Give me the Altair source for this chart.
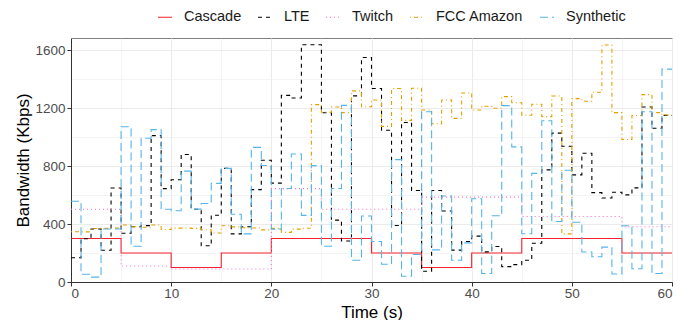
import altair as alt
import pandas as pd

# ---------------- data ----------------
series_names = ["Cascade", "LTE", "Twitch", "FCC Amazon", "Synthetic"]

block_times = [0, 5, 10, 15, 20, 25, 30, 35, 40, 45, 50, 55]
cascade_kbps = [300, 200, 100, 200, 300, 300, 200, 100, 200, 300, 300, 200]
twitch_kbps = [502, 110, 90, 90, 645, 502, 502, 586, 586, 452, 452, 382]

second_times = list(range(0, 60))
lte_kbps = [
    167, 299, 366, 219, 649, 337, 382, 389, 1011, 645,
    706, 880, 502, 250, 461, 785, 332, 382, 638, 841,
    683, 1289, 1271, 1638, 1638, 1169, 427, 283, 1285, 1550,
    1336, 1048, 390, 1101, 632, 74, 632, 490, 220, 280,
    317, 208, 245, 106, 120, 150, 268, 774, 1028, 937,
    740, 889, 617, 580, 620, 602, 650, 1208, 1062, 1151,
]
fcc_kbps = [
    347, 346, 369, 370, 372, 394, 382, 378, 394, 363,
    372, 372, 370, 361, 338, 388, 381, 375, 373, 360,
    370, 343, 365, 371, 1225, 1172, 1208, 1170, 1320, 1210,
    1257, 1075, 1336, 1116, 1338, 1188, 1093, 1257, 1130, 1305,
    1188, 1214, 1200, 1280, 1238, 1152, 1227, 1142, 1284, 332,
    1266, 1248, 1310, 1637, 1170, 984, 1150, 1294, 1170, 1153,
]
synthetic_kbps = [
    558, 54, 34, 366, 366, 1072, 247, 993, 1052, 502,
    492, 766, 503, 542, 681, 785, 468, 332, 930, 805,
    365, 646, 884, 460, 804, 247, 646, 1220, 150, 456,
    280, 123, 845, 40, 190, 1176, 222, 594, 150, 270,
    575, 59, 458, 1218, 933, 333, 750, 1114, 418, 772,
    413, 207, 174, 241, 55, 388, 92, 1176, 59, 1470,
]
end_time = 60

# ---------------- styles ----------------
series_colors = ["#F5222D", "#000000", "#FF6EC7", "#E69F00", "#56B4E9"]
series_dashes = [[1, 0], [4, 4], [1, 3], [1, 3, 4, 3], [8, 4]]

# ---------------- long table ----------------
rows = []
def add(name, times, vals):
    for t, v in zip(times, vals):
        rows.append({"series": name, "t": t, "kbps": v})
    rows.append({"series": name, "t": end_time, "kbps": vals[-1]})

add("Cascade", block_times, cascade_kbps)
add("LTE", second_times, lte_kbps)
add("Twitch", block_times, twitch_kbps)
add("FCC Amazon", second_times, fcc_kbps)
add("Synthetic", second_times, synthetic_kbps)
df = pd.DataFrame(rows)

W, H = 601, 244
FONT = "Liberation Sans"

legend = alt.Legend(
    orient="none", legendX=86, legendY=-29, direction="horizontal",
    title=None, symbolType="stroke", symbolSize=196, symbolStrokeWidth=1.2,
    labelFontSize=14.5, labelFont=FONT, labelColor="#1A1A1A",
    labelOffset=11, columnPadding=13, padding=0, symbolOpacity=1,
)

x_minor_all = list(range(0, 61, 5))
y_minor_all = list(range(0, 1601, 200))

chart = alt.Chart(df).mark_line(
    interpolate="step-after", strokeWidth=1.1, clip=True
).encode(
    x=alt.X(
        "t:Q",
        scale=alt.Scale(domain=[0, 60], nice=False, zero=False),
        axis=alt.Axis(
            values=x_minor_all,
            labelExpr="datum.value % 10 == 0 ? datum.label : ''",
            tickOpacity=alt.condition("datum.value % 10 == 0", alt.value(1), alt.value(0)),
            gridWidth=alt.condition("datum.value % 10 == 0", alt.value(1.1), alt.value(0.55)),
            labelPadding=0,
            title="Time (s)", titleX=W / 2, titleY=35, titleBaseline="alphabetic",
        ),
    ),
    y=alt.Y(
        "kbps:Q",
        scale=alt.Scale(domain=[0, 1685], nice=False),
        axis=alt.Axis(
            values=y_minor_all,
            labelExpr="datum.value % 400 == 0 ? datum.label : ''",
            tickOpacity=alt.condition("datum.value % 400 == 0", alt.value(1), alt.value(0)),
            gridWidth=alt.condition("datum.value % 400 == 0", alt.value(1.1), alt.value(0.55)),
            title="Bandwidth (Kbps)", titleX=-48, titleY=H / 2, titleBaseline="middle",
            titleAngle=270,
        ),
    ),
    color=alt.Color("series:N", scale=alt.Scale(domain=series_names, range=series_colors),
                    legend=legend, title=None),
    strokeDash=alt.StrokeDash("series:N", scale=alt.Scale(domain=series_names, range=series_dashes),
                              legend=legend, title=None),
).properties(
    width=W, height=H,
    autosize=alt.AutoSizeParams(type="none"),
    padding={"left": 63, "top": 30, "right": 12, "bottom": 38},
).configure_axis(
    domainColor="#333333", domainWidth=1, tickColor="#333333", tickSize=4, tickWidth=1,
    labelColor="#4D4D4D", labelFontSize=13.5, labelFont=FONT, labelPadding=2,
    titleColor="#000000", titleFontSize=17, titleFont=FONT, titleFontWeight="normal",
    gridColor="#EBEBEB", format="d",
).configure_view(
    stroke="#7F7F7F", strokeWidth=1
)

chart.save("out.html", embed_options={"renderer": "svg", "actions": False})
